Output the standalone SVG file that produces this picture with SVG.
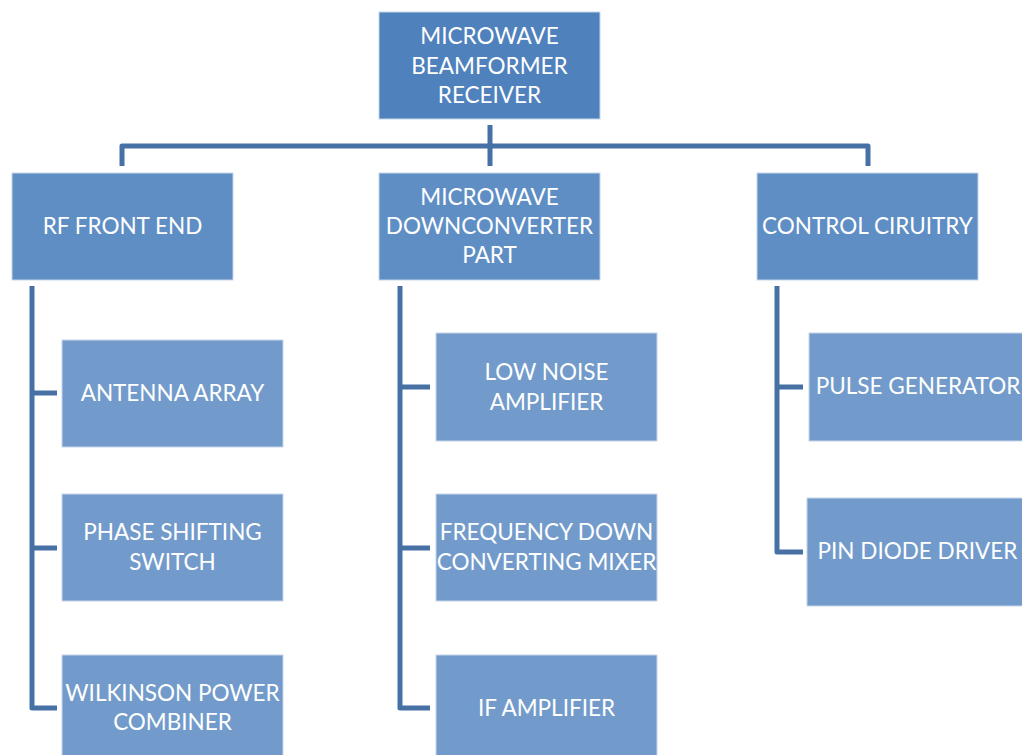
<svg xmlns="http://www.w3.org/2000/svg" width="1022" height="755" viewBox="0 0 1022 755">
<style>
.b0{fill:#4f81bd;stroke:#c5d5ea;stroke-width:1}
.b1{fill:#5f8ec5;stroke:#c5d5ea;stroke-width:1}
.b2{fill:#729bcb;stroke:#c5d5ea;stroke-width:1}
text{font-family:Lato,"Liberation Sans",sans-serif;font-size:22.5px;fill:#ffffff;text-anchor:middle}
.c{fill:none;stroke:#4770a5;stroke-width:5;stroke-linejoin:round;stroke-linecap:butt}
</style>
<rect width="1022" height="755" fill="#ffffff"/>
<g id="connectors">
<path class="c" d="M490 125V166M122 166V146H868V166"/>
<path class="c" d="M32 286V708H57M32 393H57M32 548H57"/>
<path class="c" d="M400 286V708H430M400 387H430M400 548H430"/>
<path class="c" d="M777 286V552H803M777 387H803"/>
</g>
<g id="root"><rect class="b0" x="379" y="12" width="221" height="107"/><text x="489.5" y="44">MICROWAVE</text><text x="489.5" y="73.5">BEAMFORMER</text><text x="489.5" y="102.5">RECEIVER</text></g>
<g id="rf"><rect class="b1" x="12" y="173" width="221" height="107"/><text x="122.5" y="234">RF FRONT END</text></g>
<g id="down"><rect class="b1" x="379" y="173" width="221" height="107"/><text x="489.5" y="205">MICROWAVE</text><text x="489.5" y="234">DOWNCONVERTER</text><text x="489.5" y="263">PART</text></g>
<g id="ctrl"><rect class="b1" x="757" y="173" width="221" height="107"/><text x="867.5" y="234">CONTROL CIRUITRY</text></g>
<g id="antenna"><rect class="b2" x="62" y="340" width="221" height="107"/><text x="172.5" y="401">ANTENNA ARRAY</text></g>
<g id="phase"><rect class="b2" x="62" y="494" width="221" height="107"/><text x="172.5" y="540">PHASE SHIFTING</text><text x="172.5" y="569.5">SWITCH</text></g>
<g id="wilk"><rect class="b2" x="62" y="655" width="221" height="107"/><text x="172.5" y="701">WILKINSON POWER</text><text x="172.5" y="730">COMBINER</text></g>
<g id="lna"><rect class="b2" x="436" y="333" width="221" height="108"/><text x="546.5" y="380">LOW NOISE</text><text x="546.5" y="410">AMPLIFIER</text></g>
<g id="mixer"><rect class="b2" x="436" y="494" width="221" height="107"/><text x="546.5" y="540">FREQUENCY DOWN</text><text x="546.5" y="569.5">CONVERTING MIXER</text></g>
<g id="ifamp"><rect class="b2" x="436" y="655" width="221" height="107"/><text x="546.5" y="716">IF AMPLIFIER</text></g>
<g id="pulse"><rect class="b2" x="809" y="333" width="221" height="108"/><text x="918" y="394">PULSE GENERATOR</text></g>
<g id="pin"><rect class="b2" x="807" y="498" width="221" height="108"/><text x="917.5" y="559">PIN DIODE DRIVER</text></g>
</svg>
